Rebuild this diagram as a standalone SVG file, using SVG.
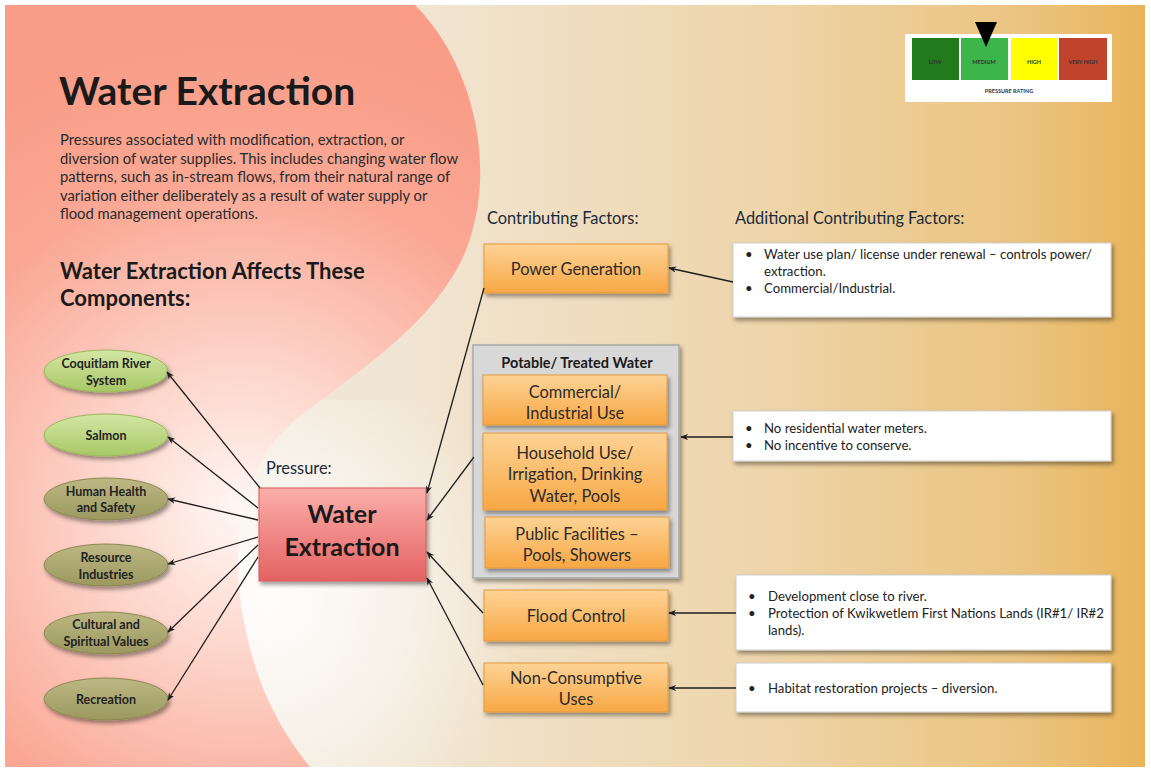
<svg xmlns="http://www.w3.org/2000/svg" width="1151" height="771" viewBox="0 0 1151 771">
<style>
text{font-family:"Lato","Open Sans","Liberation Sans",sans-serif;fill:#1a1a1a}
.para{font-size:14.8px;fill:#2a2a2a}
.hd{font-size:16.4px;fill:#1a2a3a}
.ell{font-size:12.5px;font-weight:bold;text-anchor:middle;fill:#222}
.box{font-size:16.4px;text-anchor:middle;fill:#2b2b2b}
.info{font-size:13.2px;fill:#222}
.leg{font-size:5.5px;font-weight:bold;text-anchor:middle;fill:#333}
.conn line{stroke:#1e1e1e;stroke-width:1.3;marker-end:url(#ah)}
</style>
<defs>
<linearGradient id="bg" x1="0" y1="0" x2="1" y2="0">
<stop offset="0" stop-color="#f4ede4"/>
<stop offset="0.35" stop-color="#f1e5d3"/>
<stop offset="0.65" stop-color="#eed6ad"/>
<stop offset="0.9" stop-color="#ebc37e"/>
<stop offset="1" stop-color="#e8b45a"/>
</linearGradient>
<radialGradient id="pink" gradientUnits="userSpaceOnUse" cx="240" cy="510" r="470">
<stop offset="0" stop-color="#fff7f4"/>
<stop offset="0.3" stop-color="#fdd6cc"/>
<stop offset="0.7" stop-color="#faa895"/>
<stop offset="1" stop-color="#f99d88"/>
</radialGradient>
<radialGradient id="glow" gradientUnits="userSpaceOnUse" cx="270" cy="600" r="260">
<stop offset="0" stop-color="#ffffff" stop-opacity="0.95"/>
<stop offset="0.6" stop-color="#ffffff" stop-opacity="0.4"/>
<stop offset="1" stop-color="#ffffff" stop-opacity="0"/>
</radialGradient>
<linearGradient id="orange" x1="0" y1="0" x2="0" y2="1">
<stop offset="0" stop-color="#fdd395"/>
<stop offset="1" stop-color="#f8a744"/>
</linearGradient>
<linearGradient id="red" x1="0" y1="0" x2="0" y2="1">
<stop offset="0" stop-color="#fbaeab"/>
<stop offset="1" stop-color="#e46262"/>
</linearGradient>
<linearGradient id="lgreen" x1="0" y1="0" x2="0" y2="1">
<stop offset="0" stop-color="#d3e6a5"/>
<stop offset="1" stop-color="#a8c865"/>
</linearGradient>
<linearGradient id="olive" x1="0" y1="0" x2="0" y2="1">
<stop offset="0" stop-color="#bdb883"/>
<stop offset="1" stop-color="#9c9860"/>
</linearGradient>
<filter id="sh" x="-20%" y="-20%" width="140%" height="150%">
<feDropShadow dx="2" dy="3" stdDeviation="2" flood-color="#000" flood-opacity="0.4"/>
</filter>
<marker id="ah" viewBox="0 0 10 8" refX="9" refY="4" markerWidth="8" markerHeight="6.4" markerUnits="userSpaceOnUse" orient="auto">
<path d="M0,0 L10,4 L0,8 L3,4 z" fill="#1e1e1e"/>
</marker>
</defs>

<rect width="1151" height="771" fill="#ffffff"/>
<rect x="5" y="5" width="1140" height="762" fill="url(#bg)"/>
<rect x="5" y="400" width="600" height="367" fill="url(#glow)"/>
<path id="pinkshape" d="M5,5 L415,5 C470,60 498,160 468,245 C440,320 360,370 295,420 C235,470 228,560 248,640 C262,700 288,740 310,767 L5,767 Z" fill="url(#pink)"/>

<g id="title">
<text x="59" y="105" font-size="39" font-weight="bold" fill="#000">Water Extraction</text>
<text class="para" x="60" y="145">Pressures associated with modification, extraction, or</text>
<text class="para" x="60" y="163.5">diversion of water supplies. This includes changing water flow</text>
<text class="para" x="60" y="182">patterns, such as in-stream flows, from their natural range of</text>
<text class="para" x="60" y="200.5">variation either deliberately as a result of water supply or</text>
<text class="para" x="60" y="219">flood management operations.</text>
<text x="60" y="279" font-size="22" font-weight="bold" fill="#000">Water Extraction Affects These</text>
<text x="60" y="306" font-size="22" font-weight="bold" fill="#000">Components:</text>
</g>

<g id="legend">
<rect x="905" y="34" width="207" height="68" fill="#ffffff"/>
<rect x="912" y="38" width="47" height="42" fill="#217a1c"/>
<rect x="961" y="38" width="47" height="42" fill="#3cb54a"/>
<rect x="1011" y="38" width="46" height="42" fill="#ffff00"/>
<rect x="1059" y="38" width="48" height="42" fill="#c0432c"/>
<text class="leg" x="935" y="64">LOW</text>
<text class="leg" x="984" y="64">MEDIUM</text>
<text class="leg" x="1034" y="64">HIGH</text>
<text class="leg" x="1083" y="64">VERY HIGH</text>
<text class="leg" x="1009" y="93">PRESSURE RATING</text>
<path d="M975,22 L997,22 L986,47 Z" fill="#000"/>
</g>

<g id="headings">
<text class="hd" x="266" y="474">Pressure:</text>
<text class="hd" x="487" y="224">Contributing Factors:</text>
<text class="hd" x="735" y="224">Additional Contributing Factors:</text>
</g>

<g id="n-coquitlam"><ellipse cx="106" cy="371" rx="62" ry="21" fill="url(#lgreen)" stroke="#9ab85c" filter="url(#sh)"/><text class="ell" x="106" y="368">Coquitlam River</text><text class="ell" x="106" y="385">System</text></g>
<g id="n-salmon"><ellipse cx="106" cy="435" rx="62" ry="21" fill="url(#lgreen)" stroke="#9ab85c" filter="url(#sh)"/><text class="ell" x="106" y="440">Salmon</text></g>
<g id="n-health"><ellipse cx="106" cy="499" rx="62" ry="21" fill="url(#olive)" stroke="#8c8852" filter="url(#sh)"/><text class="ell" x="106" y="496">Human Health</text><text class="ell" x="106" y="512">and Safety</text></g>
<g id="n-resource"><ellipse cx="106" cy="565" rx="62" ry="21" fill="url(#olive)" stroke="#8c8852" filter="url(#sh)"/><text class="ell" x="106" y="562">Resource</text><text class="ell" x="106" y="579">Industries</text></g>
<g id="n-cultural"><ellipse cx="106" cy="633" rx="62" ry="21" fill="url(#olive)" stroke="#8c8852" filter="url(#sh)"/><text class="ell" x="106" y="629">Cultural and</text><text class="ell" x="106" y="646">Spiritual Values</text></g>
<g id="n-recreation"><ellipse cx="106" cy="699" rx="62" ry="21" fill="url(#olive)" stroke="#8c8852" filter="url(#sh)"/><text class="ell" x="106" y="704">Recreation</text></g>

<g id="n-water"><rect x="259" y="488" width="167" height="93" fill="url(#red)" stroke="#d65a5a" filter="url(#sh)"/><text x="342" y="523" font-size="25" font-weight="bold" text-anchor="middle" fill="#000">Water</text><text x="342" y="556" font-size="25" font-weight="bold" text-anchor="middle" fill="#000">Extraction</text></g>

<g id="n-power"><rect x="484" y="244" width="184" height="49" fill="url(#orange)" stroke="#e39a3c" filter="url(#sh)"/><text class="box" x="576" y="275">Power Generation</text></g>

<g id="n-potable">
<rect x="473" y="345" width="206" height="233" fill="#d8d8d8" stroke="#a9a9a9" stroke-width="1.5" filter="url(#sh)"/>
<text x="577" y="368" font-size="14.5" font-weight="bold" text-anchor="middle" fill="#1a1a1a">Potable/ Treated Water</text>
<g id="n-commercial"><rect x="483" y="375" width="184" height="50" fill="url(#orange)" stroke="#e39a3c" filter="url(#sh)"/><text class="box" x="575" y="398">Commercial/</text><text class="box" x="575" y="419">Industrial Use</text></g>
<g id="n-household"><rect x="483" y="433" width="184" height="77" fill="url(#orange)" stroke="#e39a3c" filter="url(#sh)"/><text class="box" x="575" y="459">Household Use/</text><text class="box" x="575" y="480">Irrigation, Drinking</text><text class="box" x="575" y="502">Water, Pools</text></g>
<g id="n-public"><rect x="485" y="517" width="184" height="51" fill="url(#orange)" stroke="#e39a3c" filter="url(#sh)"/><text class="box" x="577" y="540">Public Facilities –</text><text class="box" x="577" y="561">Pools, Showers</text></g>
</g>

<g id="n-flood"><rect x="484" y="590" width="184" height="51" fill="url(#orange)" stroke="#e39a3c" filter="url(#sh)"/><text class="box" x="576" y="622">Flood Control</text></g>
<g id="n-noncons"><rect x="484" y="663" width="184" height="49" fill="url(#orange)" stroke="#e39a3c" filter="url(#sh)"/><text class="box" x="576" y="684">Non-Consumptive</text><text class="box" x="576" y="705">Uses</text></g>

<g id="i-power"><rect x="733" y="243" width="378" height="74" fill="#ffffff" stroke="#cfcfcf" filter="url(#sh)"/>
<text class="info" x="745" y="259">•</text><text class="info" x="764" y="259">Water use plan/ license under renewal – controls power/</text>
<text class="info" x="764" y="276">extraction.</text>
<text class="info" x="745" y="293">•</text><text class="info" x="764" y="293">Commercial/Industrial.</text></g>
<g id="i-potable"><rect x="733" y="411" width="378" height="50" fill="#ffffff" stroke="#cfcfcf" filter="url(#sh)"/>
<text class="info" x="745" y="433">•</text><text class="info" x="764" y="433">No residential water meters.</text>
<text class="info" x="745" y="450">•</text><text class="info" x="764" y="450">No incentive to conserve.</text></g>
<g id="i-flood"><rect x="736" y="575" width="375" height="75" fill="#ffffff" stroke="#cfcfcf" filter="url(#sh)"/>
<text class="info" x="748" y="601">•</text><text class="info" x="768" y="601">Development close to river.</text>
<text class="info" x="748" y="618">•</text><text class="info" x="768" y="618">Protection of Kwikwetlem First Nations Lands (IR#1/ IR#2</text>
<text class="info" x="768" y="635">lands).</text></g>
<g id="i-noncons"><rect x="736" y="663" width="375" height="49" fill="#ffffff" stroke="#cfcfcf" filter="url(#sh)"/>
<text class="info" x="748" y="693">•</text><text class="info" x="768" y="693">Habitat restoration projects – diversion.</text></g>

<g id="connectors" class="conn">
<line x1="260" y1="488" x2="167" y2="372"/>
<line x1="258" y1="508" x2="168" y2="437"/>
<line x1="258" y1="520" x2="168" y2="499"/>
<line x1="258" y1="537" x2="168" y2="564"/>
<line x1="258" y1="545" x2="168" y2="632"/>
<line x1="258" y1="557" x2="168" y2="700"/>
<line x1="484" y1="288" x2="427" y2="493"/>
<line x1="474" y1="457" x2="427" y2="520"/>
<line x1="483" y1="613" x2="427" y2="552"/>
<line x1="483" y1="685" x2="427" y2="578"/>
<line x1="733" y1="282" x2="669" y2="268"/>
<line x1="733" y1="437" x2="681" y2="437"/>
<line x1="736" y1="613" x2="669" y2="613"/>
<line x1="736" y1="688" x2="669" y2="688"/>
</g>
</svg>
